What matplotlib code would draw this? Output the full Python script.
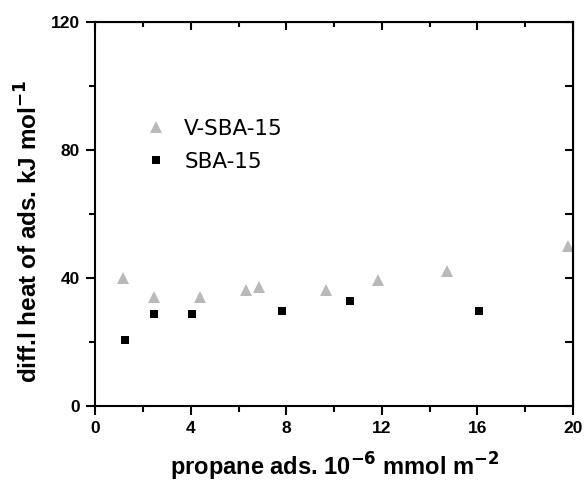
import matplotlib
matplotlib.use("Agg")
import matplotlib.pyplot as plt
from matplotlib.ticker import MultipleLocator

# data
v_sba_x = [1.17, 2.45, 4.38, 6.31, 6.86, 9.66, 11.83, 14.75, 19.8]
v_sba_y = [40.2, 34.2, 34.2, 36.2, 37.2, 36.2, 39.3, 42.3, 50.1]
sba_x = [1.23, 2.45, 4.03, 7.83, 10.67, 16.08]
sba_y = [20.7, 28.8, 28.8, 29.7, 32.8, 29.7]

fig = plt.figure(figsize=(5.85, 4.83), dpi=100)
ax = fig.add_axes([0.163, 0.159, 0.816, 0.795])

ax.plot(v_sba_x, v_sba_y, linestyle="none", marker="^", markersize=8,
        color="#b9b9b9", markeredgewidth=0, label="V-SBA-15")
ax.plot(sba_x, sba_y, linestyle="none", marker="s", markersize=6.2,
        color="black", markeredgewidth=0, label="SBA-15")

ax.set_xlim(0, 20)
ax.set_ylim(0, 120)
ax.xaxis.set_major_locator(MultipleLocator(4))
ax.xaxis.set_minor_locator(MultipleLocator(2))
ax.yaxis.set_major_locator(MultipleLocator(40))
ax.yaxis.set_minor_locator(MultipleLocator(20))

for s in ax.spines.values():
    s.set_linewidth(1.5)
ax.tick_params(which="both", direction="out", width=1.5, labelsize=12.5, pad=4.5)
ax.tick_params(which="major", length=6.5)
ax.tick_params(which="minor", length=4.3)
for lab in ax.get_xticklabels() + ax.get_yticklabels():
    lab.set_fontweight("bold")
    lab.set_fontfamily("Liberation Sans")

# mirrored ticks pointing inward on top and right
top = ax.secondary_xaxis("top")
top.xaxis.set_major_locator(MultipleLocator(4))
top.xaxis.set_minor_locator(MultipleLocator(2))
top.tick_params(which="both", direction="in", width=1.5, labeltop=False)
top.tick_params(which="major", length=5.5)
top.tick_params(which="minor", length=3.5)
right = ax.secondary_yaxis("right")
right.yaxis.set_major_locator(MultipleLocator(40))
right.yaxis.set_minor_locator(MultipleLocator(20))
right.tick_params(which="both", direction="in", width=1.5, length=6, labelright=False)

ax.set_xlabel("propane ads. 10$^{\\mathbf{-6}}$ mmol m$^{\\mathbf{-2}}$",
              fontsize=17, fontweight="bold", fontfamily="Liberation Sans")
ax.set_ylabel("diff.l heat of ads. kJ mol$^{\\mathbf{-1}}$",
              fontsize=17.5, fontweight="bold", fontfamily="Liberation Sans")
ax.xaxis.set_label_coords(0.502, -0.116)
ax.yaxis.set_label_coords(-0.11, 0.456)

ax.legend(loc="center left", bbox_to_anchor=(0.06, 0.68), frameon=False,
          prop={"family": "DejaVu Sans", "size": 15.5}, handletextpad=0.7,
          labelspacing=0.6, handlelength=1.2)

fig.savefig("out.png", dpi=100)
